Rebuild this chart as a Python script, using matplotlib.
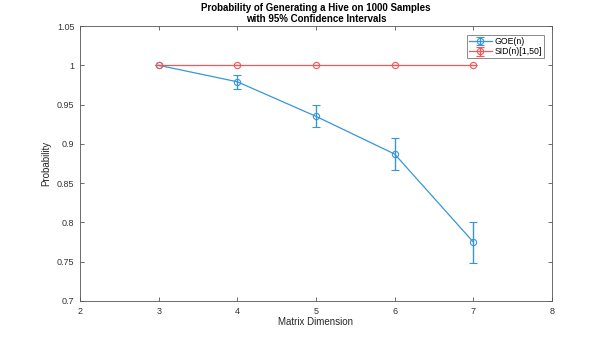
import matplotlib
matplotlib.use("Agg")
import matplotlib.pyplot as plt

plt.rcParams["font.family"] = ["Liberation Sans", "DejaVu Sans"]

dims = [3, 4, 5, 6, 7]
goe = [1.0, 0.979, 0.935, 0.887, 0.775]
goe_err = [0.0, 0.009, 0.014, 0.020, 0.026]
sid = [1.0, 1.0, 1.0, 1.0, 1.0]
sid_err = [0.0, 0.0, 0.0, 0.0, 0.0]

blue = "#3796da"
red = "#f25858"

fig = plt.figure(figsize=(6.1, 3.39), dpi=100)
ax = fig.add_axes([80 / 610, 1 - 301 / 339, (552 - 80) / 610, (301 - 26) / 339])

ax.errorbar(dims, goe, yerr=goe_err, color=blue, lw=0.9, marker="o", ms=4.5,
            mfc="none", mew=0.8, capsize=3, elinewidth=1.0, capthick=1.0,
            label="GOE(n)")
ax.errorbar(dims, sid, yerr=sid_err, color=red, ecolor=red, lw=0.9,
            marker="o", ms=4.5, mfc="none", mec=red, mew=0.8, capsize=3,
            elinewidth=1.0, capthick=1.0, label="SID(n)[1,50]")

ax.set_xlim(2, 8)
ax.set_ylim(0.7, 1.05)
ax.set_xticks([2, 3, 4, 5, 6, 7, 8])
ax.set_yticks([0.7, 0.75, 0.8, 0.85, 0.9, 0.95, 1.0, 1.05])
ax.set_yticklabels(["0.7", "0.75", "0.8", "0.85", "0.9", "0.95", "1", "1.05"])
ax.tick_params(direction="in", top=True, right=True, length=3, width=0.6,
               labelsize=6.5, colors="#555555", labelcolor="#333333", pad=4)
for s in ax.spines.values():
    s.set_linewidth(0.6)
    s.set_color("#555555")

ax.set_xlabel("Matrix Dimension", fontsize=7, color="#262626", labelpad=1)
ax.set_ylabel("Probability", fontsize=7, color="#262626", labelpad=4)
ax.set_title("Probability of Generating a Hive on 1000 Samples\nwith 95% Confidence Intervals",
             fontsize=7, fontweight="bold", pad=3, linespacing=1.15)

leg = ax.legend(loc="upper right", fontsize=6.3, frameon=True, fancybox=False,
                borderpad=0.25, handlelength=2.6, handletextpad=0.3,
                labelspacing=0.15, borderaxespad=0,
                bbox_to_anchor=(0.983, 0.968))
leg.get_frame().set_edgecolor("#555555")
leg.get_frame().set_linewidth(0.6)

fig.savefig("out.png", dpi=100)
